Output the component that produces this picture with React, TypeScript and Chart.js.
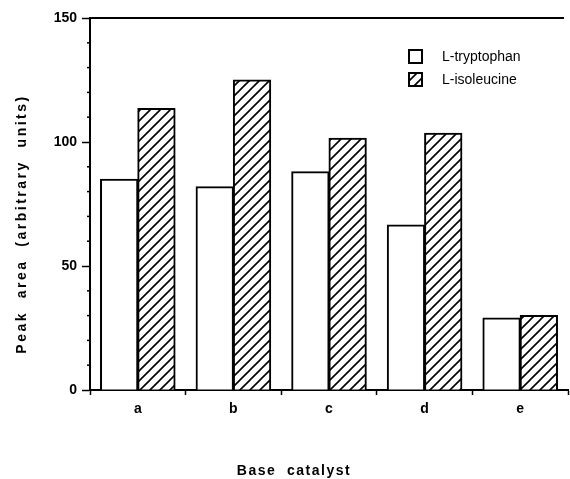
import React, { useEffect, useRef } from "react";
import { Chart, registerables } from "chart.js";

Chart.register(...registerables);

const categories = ["a", "b", "c", "d", "e"];
const tryptophan = [85, 82, 88, 66.5, 29];
const isoleucine = [113.5, 125, 101.5, 103.5, 30];
const seriesNames = ["L-tryptophan", "L-isoleucine"];
const yTickLabels = [0, 50, 100, 150];
const xTitle = "Base  catalyst";
const yTitle = "Peak  area  (arbitrary  units)";

function makeHatch(): CanvasPattern | string {
  const c = document.createElement("canvas");
  c.width = 10;
  c.height = 10;
  const g = c.getContext("2d");
  if (!g) return "#fff";
  g.fillStyle = "#fff";
  g.fillRect(0, 0, 10, 10);
  g.strokeStyle = "#000";
  g.lineWidth = 1.6;
  g.beginPath();
  g.moveTo(-2, 12);
  g.lineTo(12, -2);
  g.moveTo(-2, 2);
  g.lineTo(2, -2);
  g.moveTo(8, 12);
  g.lineTo(12, 8);
  g.stroke();
  const ctx = document.createElement("canvas").getContext("2d");
  return (ctx && ctx.createPattern(c, "repeat")) || "#fff";
}

const decorPlugin = {
  id: "decor",
  afterDraw(chart: any) {
    const { ctx, chartArea, scales } = chart;
    const y = scales.y;
    ctx.save();
    // top frame line
    ctx.strokeStyle = "#000";
    ctx.lineWidth = 2;
    ctx.beginPath();
    ctx.moveTo(chartArea.left, chartArea.top);
    ctx.lineTo(chartArea.right - 4, chartArea.top);
    ctx.stroke();
    // minor ticks
    ctx.lineWidth = 1.5;
    for (let v = 0; v <= 150; v += 10) {
      if (yTickLabels.includes(v)) continue;
      const py = y.getPixelForValue(v);
      ctx.beginPath();
      ctx.moveTo(chartArea.left - 3, py);
      ctx.lineTo(chartArea.left + 1, py);
      ctx.stroke();
    }
    // legend
    const lx = chartArea.right - 159;
    let ly = chartArea.top + 32;
    ctx.font = "14px 'Liberation Sans', Arial, sans-serif";
    ctx.textBaseline = "middle";
    ctx.textAlign = "left";
    chart.data.datasets.forEach((ds: any) => {
      ctx.fillStyle = ds.backgroundColor;
      ctx.fillRect(lx, ly, 13, 13);
      ctx.strokeStyle = "#000";
      ctx.lineWidth = 2;
      ctx.strokeRect(lx, ly, 13, 13);
      ctx.fillStyle = "#000";
      ctx.fillText(ds.label, lx + 33, ly + 7);
      ly += 23;
    });
    // axis titles
    ctx.font = "bold 14px 'Liberation Sans', Arial, sans-serif";
    (ctx as any).letterSpacing = "1.5px";
    ctx.textAlign = "center";
    ctx.fillText(xTitle, chartArea.left + 204, chart.height - 8);
    (ctx as any).letterSpacing = "2.5px";
    ctx.translate(22, chartArea.top + 206);
    ctx.rotate(-Math.PI / 2);
    ctx.fillText(yTitle, 0, 0);
    ctx.restore();
  },
};

export default function App() {
  const ref = useRef<HTMLCanvasElement>(null);
  useEffect(() => {
    if (!ref.current) return;
    const hatch = makeHatch();
    const font = { family: "'Liberation Sans', Arial, sans-serif", size: 14, weight: "bold" as const };
    const chart = new Chart(ref.current, {
      type: "bar",
      data: {
        labels: categories,
        datasets: [
          {
            label: seriesNames[0],
            data: tryptophan,
            backgroundColor: "#ffffff",
            borderColor: "#000",
            borderWidth: 2,
            borderSkipped: "bottom",
            inflateAmount: 0.5,
          },
          {
            label: seriesNames[1],
            data: isoleucine,
            backgroundColor: hatch as any,
            borderColor: "#000",
            borderWidth: 2,
            borderSkipped: "bottom",
            inflateAmount: 0.5,
          },
        ],
      },
      options: {
        animation: false,
        responsive: true,
        maintainAspectRatio: false,
        categoryPercentage: 0.78,
        barPercentage: 1,
        layout: { padding: { top: 18, right: 2, left: 0, bottom: 0 } },
        plugins: { legend: { display: false }, tooltip: { enabled: false } },
        scales: {
          x: {
            afterFit: (s: any) => {
              s.height = 89;
            },
            border: { display: true, color: "#000", width: 2 },
            grid: {
              display: true,
              drawOnChartArea: false,
              offset: true,
              tickLength: 5,
              tickColor: "#000",
              tickWidth: 1.5,
            },
            ticks: { color: "#000", font, padding: 6 },
          },
          y: {
            min: 0,
            max: 150,
            afterFit: (s: any) => {
              s.width = 90;
            },
            border: { display: true, color: "#000", width: 2 },
            grid: {
              display: true,
              drawOnChartArea: false,
              tickLength: 8,
              tickWidth: 1.5,
              tickColor: (c: any) =>
                c.tick && yTickLabels.includes(c.tick.value) ? "#000" : "rgba(0,0,0,0)",
            },
            ticks: {
              stepSize: 10,
              color: "#000",
              font,
              padding: 5,
              autoSkip: false,
              callback: (v: any) => (yTickLabels.includes(Number(v)) ? String(v) : ""),
            },
          },
        },
      },
      plugins: [decorPlugin],
    });
    return () => chart.destroy();
  }, []);
  return (
    <div style={{ position: "fixed", left: 0, top: 0, width: 570, height: 479, background: "#fff" }}>
      <canvas ref={ref} />
    </div>
  );
}
